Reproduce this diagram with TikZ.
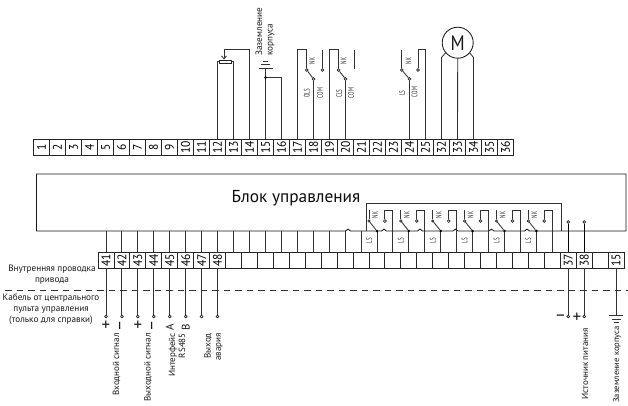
\documentclass[tikz,border=0pt]{standalone}
\usepackage{fontspec}
\usepackage{graphicx}
\setmainfont{PT Sans}
\usetikzlibrary{arrows.meta,calc}
\newcommand{\cnd}[2][0.62]{\scalebox{#1}[1]{#2}}
\newcommand{\fsz}[1]{\fontsize{#1}{#1}\selectfont}
\tikzset{
  wire/.style={draw=black!80,line width=0.85pt},
  heavy/.style={draw=black,line width=0.9pt},
  cell/.style={draw=black!85,line width=0.85pt,rectangle,minimum width=15.95pt,minimum height=16pt,inner sep=0pt,outer sep=0pt,fill=white},
  open/.style={circle,draw=black!85,fill=white,line width=0.7pt,inner sep=0pt,minimum size=2.8pt},
  solid dot/.style={circle,fill=black,inner sep=0pt,minimum size=3pt},
  tiny/.style={rotate=90,inner sep=0pt,text=black!85,font=\fsz{8}},
  vlabel/.style={rotate=90,inner sep=0pt,anchor=east,align=right,text=black!90,font=\fsz{9}},
  hlabel/.style={inner sep=0pt,align=center,text=black!90,font=\fsz{9.2}},
  sign/.style={inner sep=0pt,text=black!90,font=\fsz{17}},
}
\begin{document}
\begin{tikzpicture}[x=1pt,y=-1pt]
\useasboundingbox (0,0) rectangle (628,405);
\fill[white] (0,0) rectangle (628,405);

% top terminal strip
\foreach \n [count=\i] in {1,...,25,32,33,34,35,36}
  \node[cell] (t\n) at ({33.5+16*(\i-0.5)},147) {\rotatebox{90}{\fsz{12.5}\cnd[0.92]{\n}}};

% bottom terminal strip
\foreach \k in {0,...,32}
  \node[cell] (b\k) at ({98+15.94*(\k+0.5)},260) {};
\foreach \k/\n in {0/41,1/42,2/43,3/44,4/45,5/46,6/47,7/48,29/37,30/38,32/15}
  \node[inner sep=0pt] (bl\n) at (b\k) {\rotatebox{90}{\fsz{12.5}\cnd[0.92]{\n}}};

% control box
\coordinate (boxb) at (0,231);
\draw[wire,draw=black!90] (36.5,174) -- (626,174) -- (626,231)
  -- (529.5,231) .. controls (528.5,228.5) and (525.5,228.5) .. (524.5,231)
  -- (494,231) .. controls (493,228.5) and (490,228.5) .. (489,231)
  -- (458,231) .. controls (457,228.5) and (454,228.5) .. (453,231)
  -- (422.5,231) .. controls (421.5,228.5) and (418.5,228.5) .. (417.5,231)
  -- (386.5,231) .. controls (385.5,228.5) and (382.5,228.5) .. (381.5,231)
  -- (350.5,231) .. controls (349.5,228.5) and (346.5,228.5) .. (345.5,231)
  -- (36.5,231) -- cycle;
\draw[wire] (366,231) -- (366,203) -- (561.7,203) -- (561.7,231);
\node[inner sep=0pt,font=\fsz{17.3},text=black!95] (boxtitle) at (296,198) {Блок управления};

% wires from box to bottom strip
\foreach \k in {0,...,28}
  \draw[wire] (b\k.north) -- (b\k.north |- boxb);

% inner LS contacts
\foreach \j [evaluate=\j as \kc using int(17+2*\j), evaluate=\j as \kn using int(18+2*\j), evaluate=\j as \kl using int(16+2*\j)] in {0,...,5} {
  \coordinate (com\j) at (b\kc.north |- boxb);
  \node[solid dot,minimum size=2.8pt] (cj\j) at (com\j) {};
  \coordinate (hook\j) at ($(b\kn.north |- boxb)+(0,-21)$);
  \node[open] (no\j) at ($(hook\j)+(-8,11)$) {};
  \node[open,minimum size=2.4pt] (nc\j) at ($(com\j)+(-8,-10)$) {};
  \draw[wire] (b\kn.north |- boxb) -- (hook\j) -- (hook\j -| no\j) -- (no\j);
  \draw[wire] (nc\j) -- (cj\j);
  \draw[wire] (nc\j) -- ++(0,-11);
  \node[tiny] (nk\j) at ($(nc\j)+(6,-6)$) {\cnd{NK}};
  \node[tiny] (ls\j) at ($(b\kl.north)+(8,-11.5)$) {\cnd{LS}};
}

% 37 and 38
\node[open] (in37) at (b29.north |- 0,222) {};
\node[open] (in38) at (b30.north |- 0,222) {};
\draw[heavy] (in37) -- (b29.north);
\draw[heavy] (in38) -- (b30.north);

% lower terminals
\foreach \k in {0,...,7,29,30} {
  \node[open] (d\k) at (b\k.south |- 0,316.5) {};
  \draw[wire] (b\k.south) -- (d\k);
}
\coordinate (gnd) at (b32.south |- 0,315.5);
\draw[wire] (b32.south) -- (gnd);
\draw[wire] ($(gnd)+(-7,0)$) -- ($(gnd)+(7,0)$);
\draw[wire] ($(gnd)+(-4.5,3.5)$) -- ($(gnd)+(4.5,3.5)$);
\draw[wire] ($(gnd)+(-2.5,7)$) -- ($(gnd)+(2.5,7)$);

% signs
\node[sign] (s1) at (d0 |- 0,326) {+};
\node[sign,rotate=90] (s2) at (d1 |- 0,326) {–};
\node[sign] (s3) at (d2 |- 0,326) {+};
\node[sign,rotate=90] (s4) at (d3 |- 0,326) {–};
\node[sign,rotate=90,font=\fsz{11}] (s5) at (d4 |- 0,327) {А};
\node[sign,rotate=90,font=\fsz{11}] (s6) at (d5 |- 0,327) {В};
\node[sign] (s7) at (560.5,318) {–};
\node[sign] (s8) at (577,318) {+};

% dashed divider
\coordinate (dl) at (5,290);
\coordinate (dr) at (628,290);
\draw[wire,dash pattern=on 6.5pt off 5pt] (dl) -- (dr);

% left captions
\node[hlabel] (c1) at (52,274.5) {Внутренняя проводка\\[1.7pt]привода};
\node[hlabel] (c2) at (51,309) {Кабель от центрального\\[1.7pt]пульта управления\\[1.7pt](только для справки)};

% lower vertical labels
\node[vlabel] (v1) at (116.5,333) {Входной сигнал};
\node[vlabel] (v2) at (148,333) {Выходной сигнал};
\node[vlabel] (v3) at (177,333) {Интерфейс\\[1.2pt]RS485};
\node[vlabel] (v4) at (213.5,333) {Выход\\[1.2pt]авария};
\node[vlabel] (v5) at (585,328) {Источник питания};
\node[vlabel,font=\fsz{8.5}] (v6) at (617,326) {Заземление корпуса};

% potentiometer
\node[rectangle,draw=black!85,line width=0.85pt,minimum width=12pt,minimum height=3.5pt,inner sep=0pt] (pot) at (225,61.7) {};
\draw[wire] (t12.north) |- (pot.west);
\draw[wire] (t13.north) |- (pot.east);
\draw[wire,-{Straight Barb[length=3pt,width=5pt]}] (t14.north) |- (224,49.5) -- (pot.north -| 224,0);

% housing earth
\coordinate (gtop) at (t15.north |- 0,68.5);
\draw[wire] (t15.north) -- (gtop);
\draw[wire] ($(gtop)+(-7,0)$) -- ($(gtop)+(7,0)$);
\draw[wire] ($(gtop)+(-4.5,-3.7)$) -- ($(gtop)+(4.5,-3.7)$);
\draw[wire] ($(gtop)+(-2.5,-7)$) -- ($(gtop)+(2.5,-7)$);
\node[solid dot] (gj) at (t15.north |- 0,77.5) {};
\draw[wire] (gj) -| (t16.north);
\node[rotate=90,inner sep=0pt,anchor=west,align=left,font=\fsz{9.2},text=black!90] (ge) at (265,56) {Заземление\\[1.2pt]корпуса};

% OLS
\node[open] (o1) at (306.7,70) {};
\node[open] (o2) at (t18.north |- 0,79) {};
\node[open] (o3) at (322.5,70) {};
\draw[wire] (t17.north) |- (o1 |- 0,49.5) -- (o1);
\draw[wire] (o1) -- (o2) -- (t18.north);
\draw[wire] (o3) -- (o3 |- 0,49.5);
\node[tiny] (ot1) at (312,61) {\cnd{NK}};
\node[tiny] (ot2) at (306.7,93.5) {\cnd{OLS}};
\node[tiny] (ot3) at (320,93) {\cnd{COM}};

% CLS
\node[open] (p1) at (338.5,70) {};
\node[open] (p2) at (t20.north |- 0,79) {};
\coordinate (p3) at (354.3,68.5);
\draw[wire] (t19.north) |- (p1 |- 0,49.5) -- (p1);
\draw[wire] (p1) -- (p2) -- (t20.north);
\draw[wire] (p3) -- (p3 |- 0,49.5);
\node[tiny] (pt1) at (343.5,61) {\cnd{NK}};
\node[tiny] (pt2) at (339,93.5) {\cnd{CLS}};
\node[tiny] (pt3) at (351,93) {\cnd{COM}};

% LS
\node[open] (q1) at (401.7,70) {};
\node[open] (q2) at (t24.north |- 0,79) {};
\node[open] (q3) at (418,70) {};
\draw[wire] (q1) -- (q1 |- 0,49.5);
\draw[wire] (q1) -- (q2) -- (t24.north);
\draw[wire] (q3) |- (t25.north |- 0,49.5) -- (t25.north);
\node[tiny] (qt1) at (408.5,61) {\cnd{NK}};
\node[tiny] (qt2) at (402,93) {\cnd{LS}};
\node[tiny] (qt3) at (414.5,92) {\cnd{COM}};

% motor
\node[circle,draw=black!90,line width=0.85pt,minimum size=31pt,inner sep=0pt,font=\fsz{21},text=black!90] (mot) at (457.7,42.7) {\cnd[0.85]{M}};
\draw[wire] (t32.north) -- (441.5,57.5) -- (mot.-140);
\draw[wire] (t33.north) -- (mot.south);
\draw[wire] (t34.north) -- (473.5,57.5) -- (mot.-40);
\end{tikzpicture}
\end{document}
